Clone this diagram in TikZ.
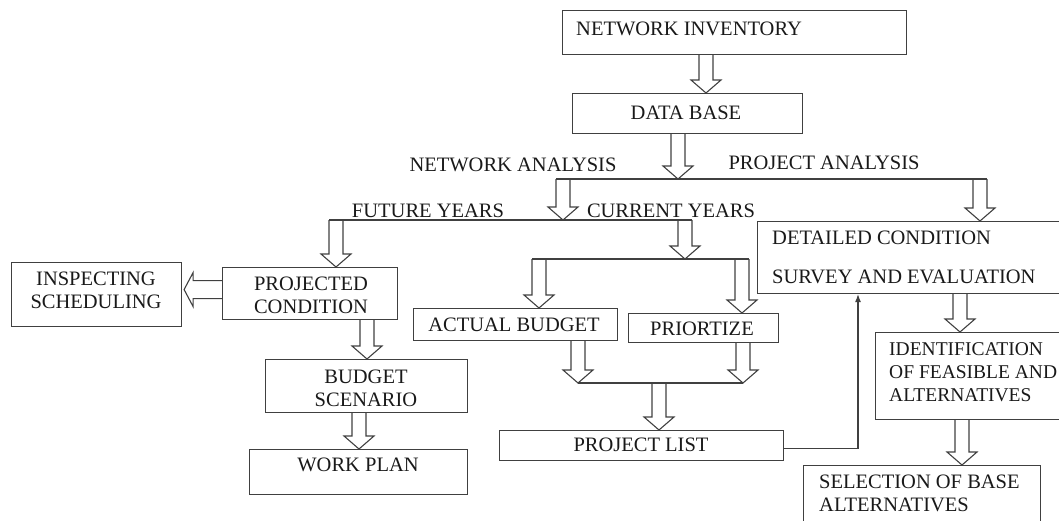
\documentclass[tikz,border=0pt]{standalone}
\usepackage{fontspec}
\setmainfont{Liberation Serif}
\usetikzlibrary{calc,arrows.meta}
\tikzset{
  box/.style={draw=black!75, line width=1.1pt, rectangle, inner sep=0pt, anchor=north west},
  lbl/.style={font=\fontsize{20.5}{23}\selectfont, inner sep=0pt, text=black!90, align=center},
  lblsm/.style={lbl, font=\fontsize{19.5}{23}\selectfont},
  hollow/.style={draw=black!75, line width=1.1pt, line join=miter},
  conn/.style={draw=black!75, line width=1.1pt},
}
% vertical hollow block arrow: #1 = x (px), #2 = start point, #3 = end point (tip)
\newcommand\vhol[3]{%
  \draw[hollow] let \p1=(#2), \p2=(#3) in
    (#1pt-7pt,\y1) -- (#1pt-7pt,\y2+13pt) -- (#1pt-15pt,\y2+13pt) -- (#1pt,\y2)
    -- (#1pt+15pt,\y2+13pt) -- (#1pt+7pt,\y2+13pt) -- (#1pt+7pt,\y1);}
\begin{document}
\begin{tikzpicture}[x=1pt,y=-1pt]
\useasboundingbox (0,0) rectangle (1059,520);
\clip (0,0) rectangle (1059,520);

% boxes
\node[box, minimum width=344pt, minimum height=44pt] (ni) at (562,10) {};
\node[box, minimum width=230pt, minimum height=40pt] (db) at (572,93) {};
\node[box, minimum width=305pt, minimum height=72pt] (dc) at (757,221) {};
\node[box, minimum width=200pt, minimum height=87pt] (idf) at (875,332) {};
\node[box, minimum width=237pt, minimum height=70pt] (sel) at (803,465) {};
\node[box, minimum width=170pt, minimum height=64pt] (is) at (11,262) {};
\node[box, minimum width=175pt, minimum height=52pt] (pc) at (222,267) {};
\node[box, minimum width=202pt, minimum height=53pt] (bs) at (265,359) {};
\node[box, minimum width=218pt, minimum height=45pt] (wp) at (249,449) {};
\node[box, minimum width=204pt, minimum height=32pt] (ab) at (413,308) {};
\node[box, minimum width=150pt, minimum height=29pt] (pr) at (628,313) {};
\node[box, minimum width=284pt, minimum height=30pt] (pl) at (499,430) {};

% texts
\node[lbl, anchor=west] (nit) at (576,29) {NETWORK INVENTORY};
\node[lbl] (dbt) at (686,113) {DATA BASE};
\node[lbl] (na) at (513,165) {NETWORK ANALYSIS};
\node[lbl] (pa) at (824,163) {PROJECT ANALYSIS};
\node[lbl] (fy) at (428,211) {FUTURE YEARS};
\node[lbl] (cy) at (671,211) {CURRENT YEARS};
\node[lbl, anchor=west] (dct1) at (772,238) {DETAILED CONDITION};
\node[lbl, anchor=west] (dct2) at (772,277) {SURVEY AND EVALUATION};
\node[lblsm, anchor=west] (idt1) at (889,349) {IDENTIFICATION};
\node[lblsm, anchor=west] (idt2) at (889,372) {OF FEASIBLE AND};
\node[lblsm, anchor=west] (idt3) at (889,395) {ALTERNATIVES};
\node[lbl, anchor=west] (selt1) at (819,482) {SELECTION OF BASE};
\node[lbl, anchor=west] (selt2) at (819,505) {ALTERNATIVES};
\node[lbl] (ist) at (96,290) {INSPECTING\\SCHEDULING};
\node[lbl] (pct) at (311,295) {PROJECTED\\CONDITION};
\node[lbl] (bst) at (366,388) {BUDGET\\SCENARIO};
\node[lbl] (wpt) at (358,465) {WORK PLAN};
\node[lbl] (abt) at (514,325) {ACTUAL BUDGET};
\node[lbl] (prt) at (702,329) {PRIORTIZE};
\node[lbl] (plt) at (641,445) {PROJECT LIST};

% junction coordinates
\coordinate (j1) at (678,179);
\coordinate (j1l) at (556,179);
\coordinate (j1r) at (987,179);
\coordinate (j2) at (563,220);
\coordinate (j2l) at (329,220);
\coordinate (j2r) at (692,220);
\coordinate (j3) at (685,259);
\coordinate (j3l) at (532,259);
\coordinate (j3r) at (749,259);
\coordinate (j4) at (659,383);
\coordinate (j4l) at (578,383);
\coordinate (j4r) at (743,383);

% split lines
\draw[conn] (j1l) -- (j1r);
\draw[conn] (j2l) -- (j2r);
\draw[conn] (j3l) -- (j3r);
\draw[conn] (j4l) -- (j4r);

% hollow arrows
\vhol{706}{ni.south}{db.north}
\vhol{678}{db.south}{j1}
\vhol{563}{j1l}{j2}
\vhol{980}{j1r}{dc.north}
\vhol{336}{j2l}{pc.north}
\vhol{685}{j2}{j3}
\vhol{539}{j3l}{ab.north}
\vhol{742}{j3r}{pr.north}
\vhol{578}{ab.south}{j4l}
\vhol{743}{pr.south}{j4r}
\vhol{659}{j4}{pl.north}
\vhol{960}{dc.south}{idf.north}
\vhol{962}{idf.south}{sel.north}
\vhol{367}{pc.south}{bs.north}
\vhol{359}{bs.south}{wp.north}

% horizontal hollow arrow PC -> IS
\draw[hollow] let \p1=(pc.west), \p2=(is.east) in
  (\x1,\y1-5pt) -- (\x2+11pt,\y1-5pt) -- (\x2+11pt,\y1-13pt) -- (\x2+2pt,\y1+4pt)
  -- (\x2+11pt,\y1+21pt) -- (\x2+11pt,\y1+13pt) -- (\x1,\y1+13pt);

% feedback arrow
\draw[conn, -{Latex[length=8pt,width=6pt]}] ([yshift=-3pt]pl.east) -| ([xshift=101pt]dc.south west);
\end{tikzpicture}
\end{document}
